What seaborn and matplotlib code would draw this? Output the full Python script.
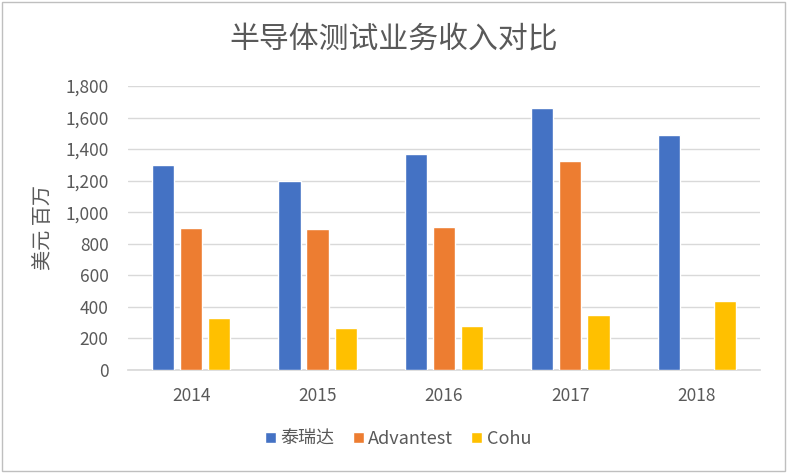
import numpy as np
import pandas as pd
import matplotlib
matplotlib.use('Agg')
import matplotlib.pyplot as plt
import seaborn as sns

# data (USD millions)
years = ['2014', '2015', '2016', '2017', '2018']
companies = ['泰瑞达', 'Advantest', 'Cohu']
teradyne = [1300, 1200, 1368, 1660, 1490]
advantest = [902, 894, 907, 1325, np.nan]
cohu = [330, 267, 280, 349, 438]
colors = ['#4472C4', '#ED7D31', '#FFC000']

df = pd.DataFrame({
    'year': years * 3,
    'company': [companies[0]] * 5 + [companies[1]] * 5 + [companies[2]] * 5,
    'value': teradyne + advantest + cohu,
})

sns.set_theme(style="white")
plt.rcParams['font.family'] = ['Noto Sans CJK SC', 'DejaVu Sans']

fig = plt.figure(figsize=(7.87, 4.73), dpi=100)
ax = fig.add_axes([0.1626, 0.2178, 0.8031, 0.6004])

sns.barplot(data=df, x='year', y='value', hue='company', hue_order=companies,
            order=years, palette=colors, width=0.667, gap=0.21,
            saturation=1, errorbar=None, ax=ax, zorder=3)

ax.set_ylim(0, 1800)
ax.set_yticks(range(0, 1801, 200))
ax.set_yticklabels([f'{v:,}' for v in range(0, 1801, 200)])
ax.yaxis.grid(True, color='#D9D9D9', linewidth=1, zorder=0)
ax.set_axisbelow(True)
for side in ['top', 'right', 'left']:
    ax.spines[side].set_visible(False)
ax.spines['bottom'].set_color('#D9D9D9')
ax.tick_params(axis='both', length=0, colors='#595959')
ax.tick_params(axis='x', pad=12, labelsize=12.5)
ax.tick_params(axis='y', pad=14, labelsize=12.5)
ax.set_xlabel('')
ax.set_ylabel('美元 百万', color='#595959', fontsize=14.5, labelpad=8)

fig.text(0.5, 0.916, '半导体测试业务收入对比', ha='center', va='center',
         fontsize=21.5, color='#595959')

ax.legend(loc='center', ncol=3, frameon=False,
          fontsize=13, handlelength=0.6, handleheight=0.6, handletextpad=0.25,
          columnspacing=1.0, labelcolor='#595959')
leg = ax.get_legend()
leg.set_bbox_to_anchor((0.506, 0.072), transform=fig.transFigure)

fig.patches.append(plt.Rectangle((0.002, 0.004), 0.996, 0.992, transform=fig.transFigure,
                                 fill=False, edgecolor='#BFBFBF', linewidth=1))

fig.savefig('out.png', dpi=100)
